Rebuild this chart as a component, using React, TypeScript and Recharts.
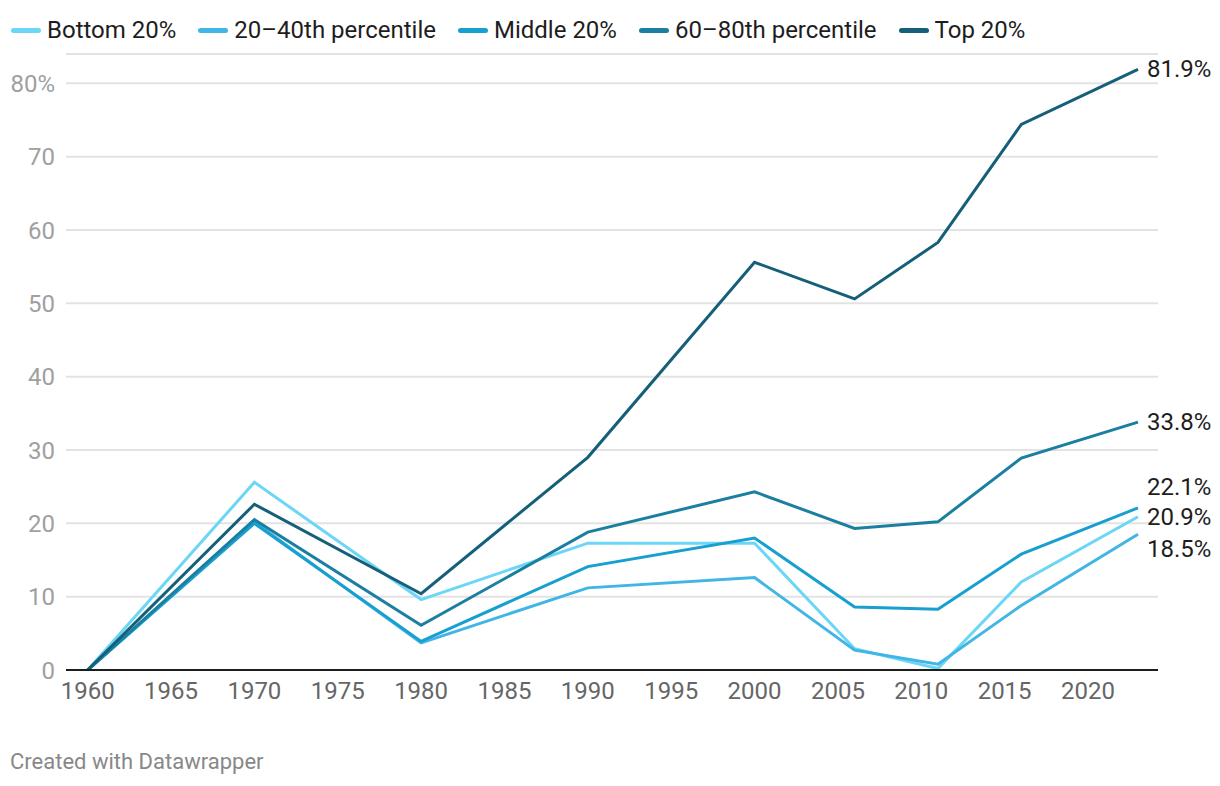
import React from 'react';
import { LineChart, Line, XAxis, YAxis, CartesianGrid } from 'recharts';

const years = [1960, 1970, 1980, 1990, 2000, 2006, 2011, 2016, 2023];
const bottom20 = [0, 25.6, 9.6, 17.3, 17.3, 2.9, 0.2, 12.0, 20.9];
const pct20to40 = [0, 20.2, 3.7, 11.2, 12.6, 2.7, 0.8, 8.8, 18.5];
const middle20 = [0, 20.0, 3.9, 14.1, 18.0, 8.6, 8.3, 15.8, 22.1];
const pct60to80 = [0, 20.5, 6.1, 18.8, 24.3, 19.3, 20.2, 28.9, 33.8];
const top20 = [0, 22.6, 10.4, 29.0, 55.6, 50.6, 58.3, 74.4, 81.9];

const xTicks = [1960, 1965, 1970, 1975, 1980, 1985, 1990, 1995, 2000, 2005, 2010, 2015, 2020];
const yTicks = [0, 10, 20, 30, 40, 50, 60, 70, 80];

const FONT = 'Roboto, "Noto Sans", sans-serif';

const series = [
  { key: 'b20', name: 'Bottom 20%', values: bottom20, color: '#6bd6f6', labelDy: 0 },
  { key: 'p2040', name: '20\u201340th percentile', values: pct20to40, color: '#41b5e5', labelDy: 15 },
  { key: 'm20', name: 'Middle 20%', values: middle20, color: '#17a0cf', labelDy: -21 },
  { key: 'p6080', name: '60\u201380th percentile', values: pct60to80, color: '#1b7fa2', labelDy: 0 },
  { key: 't20', name: 'Top 20%', values: top20, color: '#155f78', labelDy: 0 },
];

const data = years.map((year, i) => {
  const row: Record<string, number> = { year };
  series.forEach((s) => {
    row[s.key] = s.values[i];
  });
  return row;
});

// value label at the end of each line, nudged apart where they would collide
const endLabel = (dy: number) => (props: any) => {
  const { x, y, index, value } = props;
  if (index !== years.length - 1) return null;
  return (
    <text
      x={x + 9}
      y={y + dy}
      dominantBaseline="central"
      fill="#1d1d1d"
      fontSize={24}
      fontFamily={FONT}
    >
      {Number(value).toFixed(1)}%
    </text>
  );
};

export default function App() {
  return (
    <div style={{ position: 'absolute', left: 0, top: 0, width: 1220, height: 786, background: '#fff', fontFamily: FONT }}>
      <div style={{ position: 'absolute', top: 16, left: 11, display: 'flex', alignItems: 'center' }}>
        {series.map((s) => (
          <div key={s.key} style={{ display: 'flex', alignItems: 'center', marginRight: 22 }}>
            <span style={{ display: 'inline-block', width: 30, height: 5, borderRadius: 3, background: s.color, marginRight: 6 }} />
            <span style={{ fontSize: 24, color: '#1d1d1d' }}>{s.name}</span>
          </div>
        ))}
      </div>

      <LineChart
        width={1220}
        height={786}
        data={data}
        margin={{ top: 54, right: 62, left: 0, bottom: 86 }}
      >
        <CartesianGrid stroke="#e3e3e3" strokeWidth={2} vertical={false} />
        <XAxis
          dataKey="year"
          type="number"
          domain={[1958.7, 2024.2]}
          ticks={xTicks}
          allowDataOverflow
          tickLine={false}
          axisLine={{ stroke: '#1d1d1d', strokeWidth: 2 }}
          tick={{ fill: '#666', fontSize: 24, fontFamily: FONT }}
          tickMargin={6}
          height={30}
        />
        <YAxis
          type="number"
          domain={[0, 84]}
          ticks={yTicks}
          width={66}
          tickLine={false}
          axisLine={false}
          tickMargin={5}
          tick={{ fill: '#a0a0a0', fontSize: 24, fontFamily: FONT }}
          tickFormatter={(v: number) => (v === 80 ? '80%' : String(v))}
        />
        {series.map((s) => (
          <Line
            key={s.key}
            dataKey={s.key}
            name={s.name}
            type="linear"
            stroke={s.color}
            strokeWidth={3}
            dot={false}
            activeDot={false}
            isAnimationActive={false}
            label={endLabel(s.labelDy)}
          />
        ))}
      </LineChart>

      <div style={{ position: 'absolute', left: 10, top: 749, fontSize: 22, color: '#888' }}>
        Created with Datawrapper
      </div>
    </div>
  );
}
